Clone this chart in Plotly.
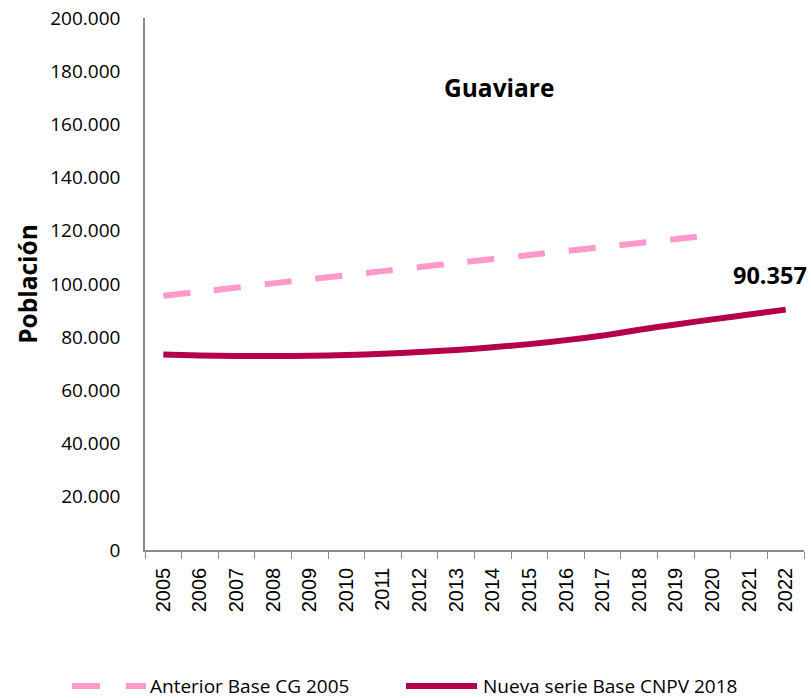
import plotly.graph_objects as go

years = [str(y) for y in range(2005, 2023)]
anterior_years = [str(y) for y in range(2005, 2021)]
anterior = [95551, 97090, 98650, 100230, 101790, 103310, 104840, 106360,
            107880, 109390, 110900, 112400, 113900, 115400, 116900, 118400]
nueva = [73500, 73100, 72900, 72900, 73000, 73300, 73800, 74400, 75200,
         76200, 77400, 78900, 80600, 82800, 84800, 86700, 88500, 90357]
yticks = list(range(0, 200001, 20000))
series_names = ["Anterior Base CG 2005", "Nueva serie Base CNPV 2018"]
colors = ["#FF99CC", "#B5004A"]

FONT = "Open Sans"
W, H = 811, 698
# plot area in screen pixels: x 145..804, y 18..550
L, T = 145, 18
PW, PH = 659, 532
R, B = W - L - PW, H - T - PH


def px(x):
    return (x - L) / PW


def py(y):
    return (T + PH - y) / PH


fig = go.Figure()
fig.add_trace(go.Scatter(
    x=anterior_years, y=anterior, mode="lines", name=series_names[0],
    line=dict(color=colors[0], width=6, dash="27px,24px", shape="spline", smoothing=0.5),
))
fig.add_trace(go.Scatter(
    x=years, y=nueva, mode="lines", name=series_names[1],
    line=dict(color=colors[1], width=6, shape="spline", smoothing=0.5),
))

fig.add_annotation(x=px(808), y=py(275), xref="paper", yref="paper", text="<b>90.357</b>",
                   xanchor="right", yanchor="middle", borderpad=0,
                   showarrow=False, font=dict(family=FONT, size=23.5, color="black"))
fig.add_annotation(x=px(499), y=py(87), xref="paper", yref="paper", text="<b>Guaviare</b>",
                   xanchor="center", yanchor="middle",
                   showarrow=False, font=dict(family=FONT, size=24.5, color="black"))

# manual legend
leg_y = py(686)
fig.add_shape(type="line", xref="paper", yref="paper", x0=px(72), x1=px(146), y0=leg_y, y1=leg_y,
              line=dict(color=colors[0], width=6, dash="28px,26px"))
fig.add_shape(type="line", xref="paper", yref="paper", x0=px(406), x1=px(477), y0=leg_y, y1=leg_y,
              line=dict(color=colors[1], width=6))
fig.add_annotation(x=px(148), y=leg_y, xref="paper", yref="paper", text=series_names[0],
                   showarrow=False, xanchor="left", yanchor="middle",
                   font=dict(family=FONT, size=19, color="black"))
fig.add_annotation(x=px(481), y=leg_y, xref="paper", yref="paper", text=series_names[1],
                   showarrow=False, xanchor="left", yanchor="middle",
                   font=dict(family=FONT, size=19, color="black"))

fig.update_layout(
    width=W, height=H,
    margin=dict(l=L, r=R, t=T, b=B, pad=0),
    paper_bgcolor="white", plot_bgcolor="white",
    separators=",.",
    font=dict(family=FONT, size=18, color="black"),
    showlegend=False,
    hovermode=False,
    xaxis=dict(type="category", range=[-0.5, len(years) - 0.5], showline=True,
               linecolor="#898989", linewidth=1.5, automargin=False,
               ticks="outside", tickson="boundaries", ticklen=7, tickcolor="#898989",
               ticklabelstandoff=8,
               tickangle=-90, showgrid=False, zeroline=False,
               tickfont=dict(family="Liberation Sans", size=20, color="black")),
    yaxis=dict(range=[0, 200000], tickvals=yticks, tickformat=",d", showline=True,
               linecolor="#898989", linewidth=1.5, ticks="", showgrid=False, zeroline=False,
               automargin=False, ticklabelstandoff=19, ticklabeloverflow="allow",
               tickfont=dict(family=FONT, size=19, color="black"),
               title=dict(text="<b>Población</b>", font=dict(family=FONT, size=24.5, color="black"),
                          standoff=6)),
)

fig.write_html("out.html", config={"displayModeBar": False},
               post_script="document.body.style.margin='0';document.body.style.overflow='hidden';")
